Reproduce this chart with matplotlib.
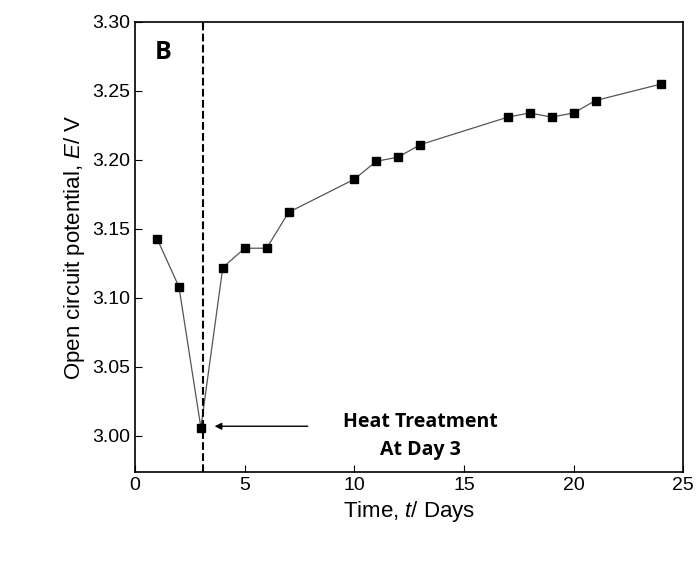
import matplotlib.pyplot as plt

plt.rcParams['font.family'] = ['Liberation Sans', 'DejaVu Sans']
plt.rcParams['mathtext.fontset'] = 'custom'
plt.rcParams['mathtext.it'] = 'Liberation Sans:italic'

days = [1, 2, 3, 4, 5, 6, 7, 10, 11, 12, 13, 17, 18, 19, 20, 21, 24]
ocp = [3.143, 3.108, 3.006, 3.122, 3.136, 3.136, 3.162, 3.186, 3.199, 3.202,
       3.211, 3.231, 3.234, 3.231, 3.234, 3.243, 3.255]

fig = plt.figure(figsize=(7, 5.61), dpi=100)
ax = fig.add_axes([0.193, 0.159, 0.783, 0.802])
ax.plot(days, ocp, color='#555555', lw=0.9, marker='s', ms=6,
        mfc='black', mec='black')
ax.axvline(3.1, color='black', ls='--', lw=1.5)
ax.annotate('', xy=(3.5, 3.007), xytext=(8.0, 3.007),
            arrowprops=dict(arrowstyle='-|>', color='black', lw=1))
ax.text(13.0, 3.0, 'Heat Treatment\nAt Day 3', ha='center', va='center',
        fontsize=14, fontweight='bold', linespacing=1.5, family='Open Sans')
ax.text(0.035, 0.96, 'B', transform=ax.transAxes, ha='left', va='top',
        fontsize=18, fontweight='bold', family='Open Sans')

ax.set_xlim(0, 25)
ax.set_ylim(2.974, 3.30)
ax.set_xticks([0, 5, 10, 15, 20, 25])
ax.set_yticks([3.00, 3.05, 3.10, 3.15, 3.20, 3.25, 3.30])
ax.yaxis.set_major_formatter(plt.FormatStrFormatter('%.2f'))
ax.tick_params(direction='in', labelsize=14, length=5)
ax.set_xlabel('Time, $t$/ Days', fontsize=16)
ax.set_ylabel('Open circuit potential, $E$/ V', fontsize=16)
for s in ax.spines.values():
    s.set_linewidth(1.2)

fig.savefig('out.png', dpi=100)
